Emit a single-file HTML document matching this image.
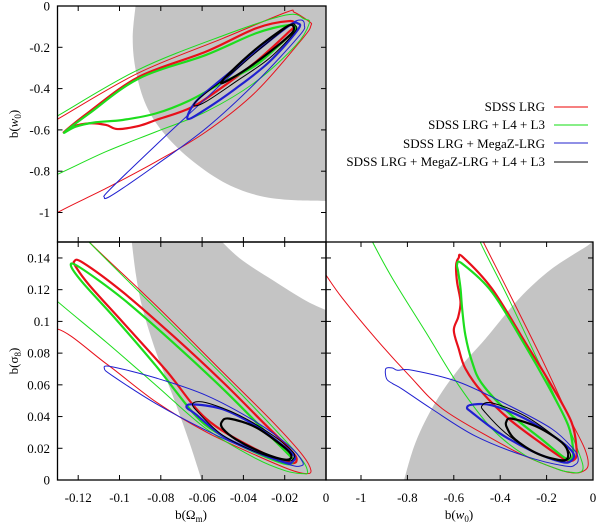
<!DOCTYPE html>
<html><head><meta charset="utf-8"><style>
html,body{margin:0;padding:0;background:#fff;}
svg{display:block;font-family:"Liberation Serif",serif;}
</style></head><body>
<svg id="chart" width="600" height="524" viewBox="0 0 600 524" xmlns="http://www.w3.org/2000/svg">
<defs>
<clipPath id="cTL"><rect x="57.5" y="6" width="268.5" height="236"/></clipPath>
<clipPath id="cBL"><rect x="57.5" y="242" width="268.5" height="238"/></clipPath>
<clipPath id="cBR"><rect x="326" y="242" width="267" height="238"/></clipPath>
</defs>
<g id="layers"></g>
<g font-size="13" text-anchor="end">
<text x="545" y="111">SDSS LRG</text>
<line x1="554" y1="107" x2="588" y2="107" stroke="#e00" stroke-width="1"/>
<text x="545" y="129">SDSS LRG + L4 + L3</text>
<line x1="554" y1="125" x2="588" y2="125" stroke="#1d1" stroke-width="1"/>
<text x="545" y="148">SDSS LRG + MegaZ-LRG</text>
<line x1="554" y1="143" x2="588" y2="143" stroke="#22c" stroke-width="1"/>
<text x="545" y="166">SDSS LRG + MegaZ-LRG + L4 + L3</text>
<line x1="554" y1="162" x2="588" y2="162" stroke="#000" stroke-width="1"/>
</g>
<text font-size="13" transform="translate(18,124) rotate(-90)" text-anchor="middle">b(<tspan font-style="italic">w</tspan><tspan font-size="9" dy="3">0</tspan><tspan dy="-3">)</tspan></text>
<text font-size="13" transform="translate(18,361) rotate(-90)" text-anchor="middle">b(σ<tspan font-size="9" dy="3">8</tspan><tspan dy="-3">)</tspan></text>
<text font-size="13" x="191" y="519" text-anchor="middle">b(Ω<tspan font-size="9" dy="3">m</tspan><tspan dy="-3">)</tspan></text>
<text font-size="13" x="459" y="519" text-anchor="middle">b(<tspan font-style="italic">w</tspan><tspan font-size="9" dy="3">0</tspan><tspan dy="-3">)</tspan></text>
</svg>
<script>
// ---- data (data coordinates) ----
const xTicksOm = [-0.12,-0.1,-0.08,-0.06,-0.04,-0.02,0];
const xTickLabelsOm = ["-0.12","-0.1","-0.08","-0.06","-0.04","-0.02","0"];
const xTicksW = [-1,-0.8,-0.6,-0.4,-0.2,0];
const xTickLabelsW = ["-1","-0.8","-0.6","-0.4","-0.2","0"];
const yTicksW = [0,-0.2,-0.4,-0.6,-0.8,-1];
const yTickLabelsW = ["0","-0.2","-0.4","-0.6","-0.8","-1"];
const yTicksS = [0,0.02,0.04,0.06,0.08,0.1,0.12,0.14];
const yTickLabelsS = ["0","0.02","0.04","0.06","0.08","0.1","0.12","0.14"];

// gray regions: smooth edge + straight corners
const tlGrayEdge = [[-0.092,0.02],[-0.0936,-0.157],[-0.092,-0.318],[-0.0872,-0.479],[-0.0791,-0.609],[-0.0662,-0.738],[-0.05,-0.851],[-0.0339,-0.915],[-0.0178,-0.939],[0.002,-0.944]];
const tlGrayCorners = [[0.002,0.02]];
const blGrayEdge = [[-0.0945,0.155],[-0.092,0.129],[-0.0888,0.108],[-0.0823,0.0807],[-0.0743,0.0534],[-0.0662,0.024],[-0.0595,-0.003]];
const blGrayCorners = [[0.002,-0.003],[0.002,0.106]];
const blGrayEdge2 = [[0.002,0.106],[-0.0097,0.113],[-0.0258,0.126],[-0.042,0.14],[-0.054,0.155]];
const brGrayEdge = [[-0.82,-0.003],[-0.764,0.024],[-0.679,0.049],[-0.579,0.07],[-0.464,0.089],[-0.321,0.114],[-0.179,0.133],[-0.021,0.148],[0.005,0.152]];
const brGrayCorners = [[0.005,-0.003]];

// top-left panel: b(Om) vs b(w0)
const tlRedOuter = [[-0.14,-1.08],[-0.1307,-1.004],[-0.1065,-0.883],[-0.0823,-0.754],[-0.0581,-0.609],[-0.0339,-0.415],[-0.0113,-0.157],[-0.0073,-0.095],[-0.0081,-0.076],[-0.0153,-0.031],[-0.0194,-0.031],[-0.05,-0.157],[-0.0912,-0.326],[-0.1307,-0.552],[-0.14,-0.6]];
const tlGreenOuter = [[-0.14,-0.85],[-0.1307,-0.818],[-0.1065,-0.705],[-0.0823,-0.609],[-0.0581,-0.512],[-0.0339,-0.366],[-0.0145,-0.189],[-0.0081,-0.084],[-0.0105,-0.063],[-0.0194,-0.0436],[-0.05,-0.144],[-0.0912,-0.31],[-0.1307,-0.536],[-0.14,-0.585]];
const tlRedInner = [[-0.1267,-0.609],[-0.1146,-0.512],[-0.0904,-0.342],[-0.0581,-0.221],[-0.0339,-0.108],[-0.0178,-0.073],[-0.0153,-0.095],[-0.0178,-0.124],[-0.0339,-0.27],[-0.0533,-0.415],[-0.0662,-0.496],[-0.0823,-0.552],[-0.0904,-0.58],[-0.1009,-0.596],[-0.1065,-0.576],[-0.1146,-0.568],[-0.1227,-0.584]];
const tlGreenInner = [[-0.1267,-0.612],[-0.1146,-0.52],[-0.0904,-0.35],[-0.0581,-0.237],[-0.0339,-0.132],[-0.0178,-0.092],[-0.0145,-0.108],[-0.0178,-0.144],[-0.0339,-0.286],[-0.05,-0.37],[-0.0662,-0.458],[-0.0823,-0.52],[-0.0985,-0.552],[-0.1114,-0.563],[-0.1211,-0.584]];
const tlBlueOuter = [[-0.1073,-0.927],[-0.1049,-0.891],[-0.0823,-0.673],[-0.0581,-0.447],[-0.0339,-0.221],[-0.0178,-0.092],[-0.0121,-0.068],[-0.0105,-0.092],[-0.0129,-0.144],[-0.0339,-0.37],[-0.0581,-0.592],[-0.0823,-0.77],[-0.0985,-0.883],[-0.1057,-0.928]];
const tlBlueInner = [[-0.067,-0.547],[-0.063,-0.463],[-0.05,-0.35],[-0.0339,-0.221],[-0.0178,-0.095],[-0.0137,-0.084],[-0.0137,-0.116],[-0.0274,-0.27],[-0.0436,-0.399],[-0.0581,-0.499]];
const tlBlackOuter = [[-0.0638,-0.483],[-0.0613,-0.447],[-0.0468,-0.334],[-0.0307,-0.197],[-0.0178,-0.095],[-0.0149,-0.095],[-0.0153,-0.128],[-0.0274,-0.253],[-0.0436,-0.366],[-0.0581,-0.463]];
const tlBlackInner = [[-0.0505,-0.374],[-0.0468,-0.326],[-0.0339,-0.208],[-0.0194,-0.102],[-0.0158,-0.098],[-0.0168,-0.134],[-0.0274,-0.224],[-0.0404,-0.318]];

// bottom-left panel: b(Om) vs b(s8)
const blRedOuter = [[-0.14,0.08],[-0.1307,0.0954],[-0.1065,0.0734],[-0.0823,0.0492],[-0.0581,0.0303],[-0.0339,0.0156],[-0.0178,0.0067],[-0.0097,0.004],[-0.0073,0.0061],[-0.0113,0.0156],[-0.0258,0.0366],[-0.05,0.068],[-0.0823,0.11],[-0.1146,0.15],[-0.12,0.16]];
const blGreenOuter = [[-0.14,0.125],[-0.1307,0.1133],[-0.1065,0.087],[-0.0823,0.0597],[-0.0581,0.0324],[-0.0339,0.0135],[-0.0194,0.0057],[-0.0113,0.004],[-0.0089,0.005],[-0.0121,0.0135],[-0.0258,0.0334],[-0.05,0.066],[-0.0823,0.108],[-0.1162,0.152],[-0.12,0.16]];
const blRedInner = [[-0.1219,0.1379],[-0.1178,0.1371],[-0.0985,0.1186],[-0.0743,0.0912],[-0.05,0.0618],[-0.0307,0.0366],[-0.0178,0.0198],[-0.0142,0.013],[-0.0178,0.0109],[-0.0339,0.0193],[-0.0581,0.0387],[-0.0775,0.0692],[-0.0985,0.0996],[-0.1146,0.1228],[-0.1211,0.1343]];
const blGreenInner = [[-0.1235,0.135],[-0.1195,0.1343],[-0.0985,0.1144],[-0.0743,0.087],[-0.05,0.0576],[-0.0307,0.0324],[-0.0178,0.0156],[-0.0158,0.0122],[-0.0194,0.0101],[-0.0339,0.0172],[-0.05,0.0277],[-0.063,0.0404],[-0.0823,0.0719],[-0.1017,0.1013],[-0.1178,0.1244]];
const blBlueOuter = [[-0.1073,0.0702],[-0.1041,0.0715],[-0.0823,0.0643],[-0.0581,0.0534],[-0.0339,0.0366],[-0.0178,0.0214],[-0.0113,0.0114],[-0.0126,0.0088],[-0.0178,0.0097],[-0.0339,0.0172],[-0.0581,0.0313],[-0.0823,0.0481],[-0.1033,0.0656]];
const blBlueInner = [[-0.0675,0.0458],[-0.0646,0.0477],[-0.05,0.0446],[-0.0339,0.0341],[-0.021,0.0219],[-0.0153,0.0151],[-0.0161,0.0118],[-0.0194,0.0109],[-0.0339,0.0181],[-0.05,0.0277],[-0.063,0.0414]];
const blBlackOuter = [[-0.0646,0.0481],[-0.0581,0.0488],[-0.042,0.0408],[-0.0258,0.0282],[-0.0161,0.0177],[-0.0158,0.0135],[-0.0194,0.0122],[-0.0339,0.0177],[-0.05,0.0282],[-0.0613,0.0418]];
const blBlackInner = [[-0.0505,0.0366],[-0.0468,0.0387],[-0.0339,0.0332],[-0.021,0.0214],[-0.0168,0.0156],[-0.0194,0.0128],[-0.0307,0.0172],[-0.0436,0.0256],[-0.05,0.0324]];

// bottom-right panel: b(w0) vs b(s8)
const brRedOuter = [[-1.2,0.14],[-1.15,0.129],[-1.079,0.1144],[-0.936,0.0891],[-0.793,0.066],[-0.65,0.045],[-0.436,0.0261],[-0.293,0.0151],[-0.15,0.0067],[-0.093,0.0046],[-0.05,0.005],[-0.021,0.0092],[-0.036,0.0198],[-0.107,0.0408],[-0.221,0.0765],[-0.364,0.1186],[-0.479,0.152],[-0.5,0.16]];
const brGreenOuter = [[-0.98,0.16],[-0.95,0.15],[-0.864,0.127],[-0.721,0.0933],[-0.579,0.0597],[-0.436,0.0324],[-0.293,0.0156],[-0.15,0.0067],[-0.1,0.005],[-0.064,0.0046],[-0.043,0.0071],[-0.057,0.0156],[-0.121,0.0387],[-0.221,0.0702],[-0.364,0.1144],[-0.486,0.15],[-0.5,0.16]];
const brRedInner = [[-0.579,0.14],[-0.561,0.1406],[-0.436,0.1207],[-0.293,0.087],[-0.179,0.0597],[-0.093,0.0366],[-0.071,0.0198],[-0.079,0.013],[-0.121,0.013],[-0.221,0.0229],[-0.364,0.0387],[-0.479,0.0555],[-0.55,0.0702],[-0.579,0.0828],[-0.6,0.0944],[-0.581,0.1028],[-0.571,0.1123],[-0.586,0.1249],[-0.59,0.1354]];
const brGreenInner = [[-0.586,0.1358],[-0.564,0.1364],[-0.436,0.1186],[-0.293,0.0849],[-0.179,0.0555],[-0.107,0.0345],[-0.086,0.0198],[-0.093,0.0139],[-0.121,0.0139],[-0.221,0.0256],[-0.364,0.0425],[-0.479,0.0608],[-0.521,0.0744],[-0.55,0.0912],[-0.564,0.108],[-0.571,0.1207],[-0.581,0.1312]];
const brBlueOuter = [[-0.893,0.0702],[-0.864,0.0706],[-0.843,0.0692],[-0.779,0.0692],[-0.579,0.0618],[-0.364,0.0471],[-0.179,0.0324],[-0.086,0.0198],[-0.064,0.0135],[-0.076,0.0097],[-0.121,0.0088],[-0.293,0.0151],[-0.507,0.0277],[-0.693,0.0446],[-0.821,0.0572],[-0.864,0.0608],[-0.89,0.0639]];
const brBlueInner = [[-0.543,0.0456],[-0.521,0.0475],[-0.436,0.0471],[-0.293,0.0387],[-0.15,0.0256],[-0.086,0.0172],[-0.093,0.0122],[-0.136,0.0114],[-0.264,0.0183],[-0.407,0.0299],[-0.521,0.0425]];
const brBlackOuter = [[-0.479,0.0467],[-0.436,0.0486],[-0.293,0.0404],[-0.15,0.0256],[-0.1,0.0172],[-0.107,0.013],[-0.15,0.0122],[-0.264,0.0183],[-0.379,0.0299],[-0.464,0.0425]];
const brBlackInner = [[-0.374,0.0366],[-0.35,0.0387],[-0.236,0.0332],[-0.133,0.0235],[-0.107,0.0164],[-0.129,0.0124],[-0.236,0.0164],[-0.336,0.0256],[-0.371,0.033]];

// ---- axes ----
const NS = "http://www.w3.org/2000/svg";
const xOm = v => 326 + v * 2065;
const xW = v => 593 + v * 232;
const yW = v => 6 - v * 206.5;
const yS = v => 480 - v * 1586;
const panels = {
  tl: {sx: xOm, sy: yW, clip: "cTL", box: [57.5, 6, 326, 242]},
  bl: {sx: xOm, sy: yS, clip: "cBL", box: [57.5, 242, 326, 480]},
  br: {sx: xW, sy: yS, clip: "cBR", box: [326, 242, 593, 480]}
};
const root = document.getElementById("layers");

function curveD(pts, p, closed, cont) {
  const P = pts.map(d => [p.sx(d[0]), p.sy(d[1])]);
  const n = P.length;
  const get = i => closed ? P[(i + n) % n] : P[Math.max(0, Math.min(n - 1, i))];
  let d = (cont ? "L" : "M") + P[0][0].toFixed(2) + "," + P[0][1].toFixed(2);
  const segs = closed ? n : n - 1;
  for (let i = 0; i < segs; i++) {
    const p0 = get(i - 1), p1 = get(i), p2 = get(i + 1), p3 = get(i + 2);
    const c1 = [p1[0] + (p2[0] - p0[0]) / 6, p1[1] + (p2[1] - p0[1]) / 6];
    const c2 = [p2[0] - (p3[0] - p1[0]) / 6, p2[1] - (p3[1] - p1[1]) / 6];
    d += "C" + c1[0].toFixed(2) + "," + c1[1].toFixed(2) + " " + c2[0].toFixed(2) + "," + c2[1].toFixed(2) + " " + p2[0].toFixed(2) + "," + p2[1].toFixed(2);
  }
  return closed ? d + "Z" : d;
}

function panelGroup(key) {
  const g = document.createElementNS(NS, "g");
  g.setAttribute("clip-path", "url(#" + panels[key].clip + ")");
  
  
  root.appendChild(g);
  return g;
}

function gray(g, key, edges, corners, name) {
  const p = panels[key];
  let d = curveD(edges[0], p, false, false);
  corners.forEach(c => { d += "L" + p.sx(c[0]).toFixed(2) + "," + p.sy(c[1]).toFixed(2); });
  for (let i = 1; i < edges.length; i++) d += curveD(edges[i], p, false, true);
  d += "Z";
  const el = document.createElementNS(NS, "path");
  el.setAttribute("d", d);
  el.setAttribute("fill", "#c4c4c4");
  
  
  g.appendChild(el);
}

function contour(g, key, pts, color, width, closed, name) {
  const el = document.createElementNS(NS, "path");
  el.setAttribute("d", curveD(pts, panels[key], closed, false));
  el.setAttribute("fill", "none");
  el.setAttribute("stroke", color);
  el.setAttribute("stroke-width", width);
  el.setAttribute("stroke-linejoin", "round");
  
  
  g.appendChild(el);
}

const RED = "#e8101a", GREEN = "#1ddd1d", BLUE = "#2020d0", BLACK = "#000";
const TH = 1, TK = 2.2;

const gTL = panelGroup("tl");
gray(gTL, "tl", [tlGrayEdge], tlGrayCorners, "tl-gray-region");
contour(gTL, "tl", tlRedOuter, RED, TH, false, "tl-sdss-95");
contour(gTL, "tl", tlGreenOuter, GREEN, TH, false, "tl-sdss-l4l3-95");
contour(gTL, "tl", tlRedInner, RED, TK, true, "tl-sdss-68");
contour(gTL, "tl", tlGreenInner, GREEN, TK, true, "tl-sdss-l4l3-68");
contour(gTL, "tl", tlBlueOuter, BLUE, TH, true, "tl-megaz-95");
contour(gTL, "tl", tlBlueInner, BLUE, TK, true, "tl-megaz-68");
contour(gTL, "tl", tlBlackOuter, BLACK, TH, true, "tl-all-95");
contour(gTL, "tl", tlBlackInner, BLACK, TK, true, "tl-all-68");

const gBL = panelGroup("bl");
gray(gBL, "bl", [blGrayEdge, blGrayEdge2], blGrayCorners, "bl-gray-region");
contour(gBL, "bl", blRedOuter, RED, TH, false, "bl-sdss-95");
contour(gBL, "bl", blGreenOuter, GREEN, TH, false, "bl-sdss-l4l3-95");
contour(gBL, "bl", blRedInner, RED, TK, true, "bl-sdss-68");
contour(gBL, "bl", blGreenInner, GREEN, TK, true, "bl-sdss-l4l3-68");
contour(gBL, "bl", blBlueOuter, BLUE, TH, true, "bl-megaz-95");
contour(gBL, "bl", blBlueInner, BLUE, TK, true, "bl-megaz-68");
contour(gBL, "bl", blBlackOuter, BLACK, TH, true, "bl-all-95");
contour(gBL, "bl", blBlackInner, BLACK, TK, true, "bl-all-68");

const gBR = panelGroup("br");
gray(gBR, "br", [brGrayEdge], brGrayCorners, "br-gray-region");
contour(gBR, "br", brRedOuter, RED, TH, false, "br-sdss-95");
contour(gBR, "br", brGreenOuter, GREEN, TH, false, "br-sdss-l4l3-95");
contour(gBR, "br", brRedInner, RED, TK, true, "br-sdss-68");
contour(gBR, "br", brGreenInner, GREEN, TK, true, "br-sdss-l4l3-68");
contour(gBR, "br", brBlueOuter, BLUE, TH, true, "br-megaz-95");
contour(gBR, "br", brBlueInner, BLUE, TK, true, "br-megaz-68");
contour(gBR, "br", brBlackOuter, BLACK, TH, true, "br-all-95");
contour(gBR, "br", brBlackInner, BLACK, TK, true, "br-all-68");

// frames and ticks
function line(x1, y1, x2, y2, name, w) {
  const el = document.createElementNS(NS, "line");
  el.setAttribute("x1", x1); el.setAttribute("y1", y1);
  el.setAttribute("x2", x2); el.setAttribute("y2", y2);
  el.setAttribute("stroke", "#000");
  el.setAttribute("stroke-width", w || 1);
  
  
  root.appendChild(el);
}
function label(x, y, txt, anchor, name) {
  const el = document.createElementNS(NS, "text");
  el.setAttribute("x", x); el.setAttribute("y", y);
  el.setAttribute("font-size", "13");
  el.setAttribute("text-anchor", anchor);
  el.textContent = txt;
  
  
  root.appendChild(el);
}
function frame(key) {
  const b = panels[key].box;
  const el = document.createElementNS(NS, "rect");
  el.setAttribute("x", b[0]); el.setAttribute("y", b[1]);
  el.setAttribute("width", b[2] - b[0]); el.setAttribute("height", b[3] - b[1]);
  el.setAttribute("fill", "none"); el.setAttribute("stroke", "#000"); el.setAttribute("stroke-width", "1.3");
  
  
  root.appendChild(el);
}
["tl", "bl", "br"].forEach(frame);
const T = 5;
function xTicks(key, ticks) {
  const p = panels[key], b = p.box;
  ticks.forEach(v => {
    const x = p.sx(v);
    if (x <= b[0] + 1 || x >= b[2] - 1) return;
    line(x, b[1], x, b[1] + T, key + "-x-tick-top");
    line(x, b[3], x, b[3] - T, key + "-x-tick-bottom");
  });
}
function yTicks(key, ticks) {
  const p = panels[key], b = p.box;
  ticks.forEach(v => {
    const y = p.sy(v);
    if (y <= b[1] + 1 || y >= b[3] - 1) return;
    line(b[0], y, b[0] + T, y, key + "-y-tick-left");
    line(b[2], y, b[2] - T, y, key + "-y-tick-right");
  });
}
xTicks("tl", xTicksOm); yTicks("tl", yTicksW);
xTicks("bl", xTicksOm); yTicks("bl", yTicksS);
xTicks("br", xTicksW); yTicks("br", yTicksS);

yTicksW.forEach((v, i) => label(50, yW(v) + 4.5, yTickLabelsW[i], "end", "tl-y-tick-label"));
yTicksS.forEach((v, i) => label(50, yS(v) + 4.5, yTickLabelsS[i], "end", "bl-y-tick-label"));
xTicksOm.forEach((v, i) => label(xOm(v), 502, xTickLabelsOm[i], "middle", "bl-x-tick-label"));
xTicksW.forEach((v, i) => label(xW(v), 502, xTickLabelsW[i], "middle", "br-x-tick-label"));
</script>
</body></html>
